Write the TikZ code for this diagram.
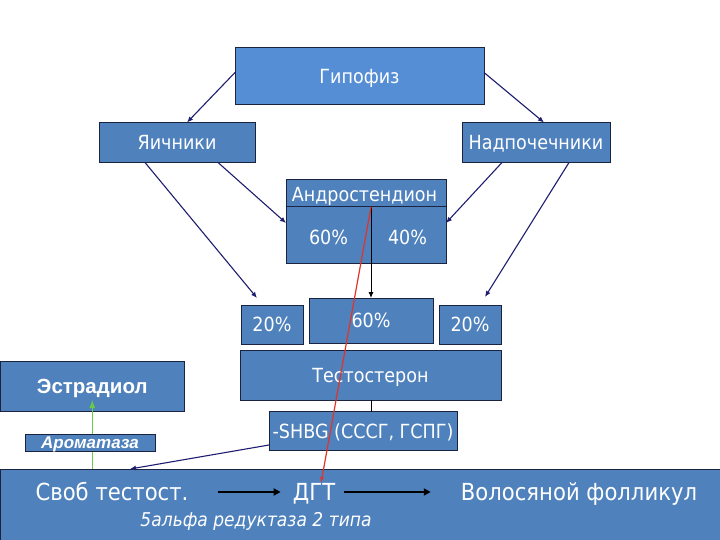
\documentclass[tikz,border=0pt]{standalone}
\usepackage{fontspec}
\setmainfont{DejaVu Sans}[FakeStretch=0.9]
\newfontfamily\arialf{Liberation Sans}
\usetikzlibrary{arrows.meta,calc}
\definecolor{boxblue}{HTML}{4F81BD}
\definecolor{hypblue}{HTML}{558ED5}
\definecolor{edgec}{HTML}{1A2440}
\definecolor{navyc}{HTML}{1E1E70}
\definecolor{redl}{HTML}{E0342A}
\definecolor{greenl}{HTML}{66CC44}
\newcommand\fA{\fontsize{19.5}{22}\selectfont}
\newcommand\fB{\fontsize{23.5}{26}\selectfont}
\newcommand\fI{\fontsize{19}{21}\selectfont\itshape}
\begin{document}
\begin{tikzpicture}[x=1pt,y=-1pt,
  box/.style={draw=edgec, line width=1pt, fill=boxblue, text=white, inner sep=0pt, outer sep=0pt,
    font=\fA, text height=14.2pt, text depth=0pt},
  lbl/.style={text=white, inner sep=0pt, font=\fA, text height=14.2pt, text depth=0pt},
  arr/.style={draw=navyc, line width=1.1pt, -{Latex[length=6pt,width=5pt]}},
  barr/.style={draw=black, line width=2pt, -{Triangle[length=7pt,width=7pt]}},
]
\useasboundingbox (0,0) rectangle (720,540);
\fill[white] (0,0) rectangle (720,540);

% boxes
\node[box, fill=hypblue, minimum width=249pt, minimum height=57pt] (hyp) at (359.5,76.5) {Гипофиз};
\node[box, minimum width=156pt, minimum height=40pt] (yai) at (177,142.5) {Яичники};
\node[box, minimum width=148pt, minimum height=40pt] (nad) at (536,142.5) {Надпочечники};
\node[box, minimum width=160pt, minimum height=84pt] (andro) at (366,221.5) {};
\node[lbl] (andrt) at (364.5,194) {Андростендион};
\node[lbl] (a60) at (328.5,237) {60\%};
\node[lbl] (a40) at (407.5,237) {40\%};
\node[box, minimum width=62pt, minimum height=39pt] (p20l) at (272,324.5) {20\%};
\node[box, minimum width=124pt, minimum height=45pt] (p60) at (371,320.5) {60\%};
\node[box, minimum width=62pt, minimum height=39pt] (p20r) at (470,324.5) {20\%};
\node[box, minimum width=261pt, minimum height=50pt] (testo) at (370.5,375) {Тестостерон};
\node[box, minimum width=188pt, minimum height=39pt] (shbg) at (363,431) {-SHBG (СССГ, ГСПГ)};
\node[box, minimum width=183.5pt, minimum height=50pt, text height=14.7pt, font={\arialf\bfseries\fontsize{20.5}{23}\selectfont}] (estr) at (92.25,386) {Эстрадиол};
\node[box, minimum width=720pt, minimum height=74pt, anchor=north] (bot) at (360,469) {};
\node[lbl, font=\fB, text height=17.2pt] (svob) at (112,492) {Своб тестост.};
\node[lbl, font=\fB, text height=17.2pt] (dgt) at (314,492) {ДГТ};
\node[lbl, font=\fB, text height=17.2pt] (vol) at (579,492) {Волосяной фолликул};
\node[lbl, font=\fI, text height=13.9pt] (red) at (256,519.5) {5альфа редуктаза 2 типа};

% divider inside Androstendion
\coordinate (adiv) at (371,207);
\draw[edgec, line width=1pt] (andro.west |- adiv) -- (andro.east |- adiv);

% connectors
\draw[arr] ([yshift=4pt]hyp.west) -- ([xshift=10pt]yai.north);
\draw[arr] ([yshift=4pt]hyp.east) -- ([xshift=8pt]nad.north);
\draw[arr] ([xshift=-32pt]yai.south) -- ([xshift=-15pt,yshift=7pt]p20l.north);
\draw[arr] ([xshift=41pt]yai.south) -- ([yshift=-1.5pt]andro.west);
\draw[arr] ([xshift=-34pt]nad.south) -- ([yshift=-1.5pt]andro.east);
\draw[arr] ([xshift=33pt]nad.south) -- ([xshift=15pt,yshift=8pt]p20r.north);
\draw[arr, draw=black, line width=0.9pt] (adiv) -- (p60.north);
\draw[black, line width=0.9pt] (testo.south -| adiv) -- (shbg.north -| adiv);
\draw[arr] ([yshift=-14pt]shbg.west) -- ([xshift=-230pt]bot.north);
\draw[greenl, line width=1pt, -{Latex[length=8pt,width=6pt]}] (estr.south |- bot.north) -- ([yshift=11pt]estr.south);
\node[box, minimum width=130pt, minimum height=17pt, text height=12.2pt, font={\arialf\bfseries\itshape\fontsize{17}{19}\selectfont}] (arom) at (90,442.5) {Ароматаза};
\draw[redl, line width=1.2pt, -{Latex[length=6pt,width=4pt]}] (adiv) -- ([xshift=7pt]dgt.north);
\draw[barr, shorten <=29pt, shorten >=12pt] (svob.east) -- (dgt.west);
\draw[barr, shorten <=9pt, shorten >=30pt] (dgt.east) -- (vol.west);
\end{tikzpicture}
\end{document}
